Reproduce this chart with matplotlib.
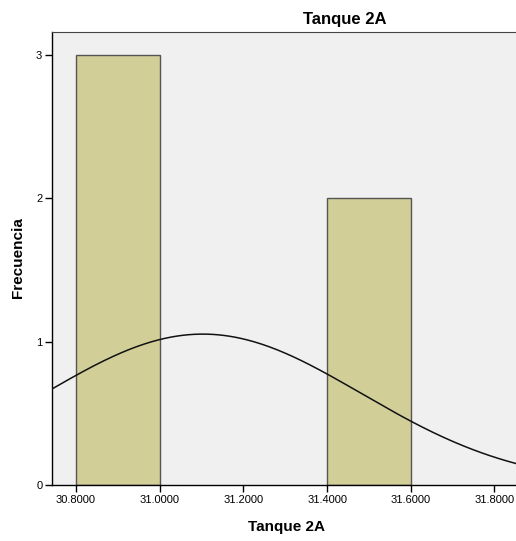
import numpy as np
import matplotlib
matplotlib.use("Agg")
import matplotlib.pyplot as plt

# Data
bin_left = [30.8, 31.4]
bin_width = 0.2
counts = [3, 2]
x_ticks = [30.8, 31.0, 31.2, 31.4, 31.6, 31.8]
x_tick_labels = ["30.8000", "31.0000", "31.2000", "31.4000", "31.6000", "31.8000"]
y_ticks = [0, 1, 2, 3]
n_total = 5
fit_mean = 31.103
fit_sd = 0.379

plt.rcParams['font.family'] = ['Liberation Sans', 'DejaVu Sans']

fig = plt.figure(figsize=(5.16, 5.41), dpi=100)
ax = fig.add_axes([52/516, 56/541, (638-52)/516, (485-32)/541])
ax.set_facecolor('#F0F0F0')

ax.bar(bin_left, counts, width=bin_width, align='edge', color='#D2CE98',
       edgecolor='#555555', linewidth=1.0, zorder=2)

xs = np.linspace(30.74, 32.15, 400)
ys = n_total * bin_width * np.exp(-0.5 * ((xs - fit_mean) / fit_sd) ** 2) / (fit_sd * np.sqrt(2 * np.pi))
ax.plot(xs, ys, color='#111111', linewidth=1.1, zorder=3)

ax.set_xlim(30.7427, 32.143)
ax.set_ylim(0, 3.16)
ax.set_xticks(x_ticks)
ax.set_xticklabels(x_tick_labels, fontsize=8)
ax.set_yticks(y_ticks)
ax.set_yticklabels([str(v) for v in y_ticks], fontsize=8)
ax.tick_params(axis='both', direction='out', length=5, width=1, color='black', pad=2)

for s in ['left', 'bottom']:
    ax.spines[s].set_color('black')
    ax.spines[s].set_linewidth(1.0)
ax.spines['top'].set_color('#444444')
ax.spines['right'].set_visible(False)

fig.text(286/516, 1 - 527/541, 'Tanque 2A', fontsize=11, fontweight='bold',
         ha='center', va='center')
fig.text(18/516, 1 - 258/541, 'Frecuencia', fontsize=11, fontweight='bold',
         ha='center', va='center', rotation=90)
ax.set_title('Tanque 2A', fontsize=12, fontweight='bold', pad=6)

fig.savefig('out.png', dpi=100)
